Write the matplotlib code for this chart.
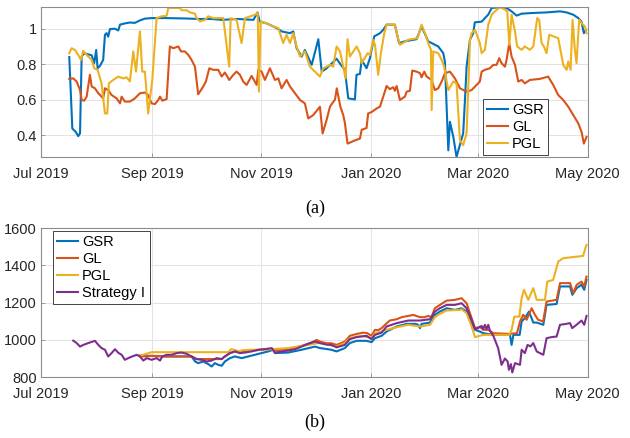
import numpy as np
import pandas as pd
import matplotlib
matplotlib.use('agg')
import matplotlib.pyplot as plt
import matplotlib.dates as mdates

# x values are days after 2019-07-01
start = pd.Timestamp('2019-07-01')

# ---- (a) top panel ----
gsr_a = [(15.8, 0.84), (17.5, 0.437), (19.4, 0.418), (20.8, 0.394), (21.8, 0.41), (22.7, 0.843),
         (24.1, 0.862), (28.3, 0.85), (29.7, 0.805), (30.8, 0.88), (31.6, 0.777), (32.9, 0.79),
         (34.7, 0.824), (35.7, 0.966), (36.6, 0.975), (37.5, 0.955), (38.5, 0.998), (41.3, 1.0),
         (43.1, 0.99), (44.1, 1.023), (46.8, 1.03), (49.6, 1.035), (52.4, 1.033), (55.2, 1.047),
         (58, 1.057), (61.7, 1.06), (70, 1.06), (80, 1.058), (88, 1.055), (95, 1.055), (101, 1.05),
         (110, 1.055), (118.5, 1.05), (120.8, 1.092), (122, 1.041), (125.9, 1.03), (129.6, 1.013),
         (132.4, 0.998), (134.2, 0.985), (138.9, 0.975), (140.7, 0.985), (142.6, 0.89), (145.4, 0.843),
         (147.2, 0.88), (151, 0.796), (154.7, 0.941), (156.6, 0.758), (159.3, 0.776), (160.2, 0.786),
         (162.1, 0.803), (164.9, 0.831), (166.8, 0.803), (169.5, 0.768), (171.4, 0.607), (175.1, 0.601),
         (176, 0.74), (177.9, 0.745), (178.9, 0.824), (181.6, 0.777), (183.5, 0.834), (185.9, 0.957),
         (189.1, 0.975), (190.9, 0.994), (192.8, 1.023), (197.4, 1.023), (199.7, 0.919), (203, 0.929),
         (209.5, 0.941), (212.3, 1.013), (216, 0.929), (221.6, 0.9), (224.4, 0.862), (225.3, 0.815),
         (227.2, 0.314), (228.1, 0.475), (230, 0.39), (231.8, 0.277), (235.5, 0.41), (236.5, 0.6),
         (237.4, 0.786), (239.3, 0.938), (241.1, 0.975), (242, 1.036), (245.8, 1.04), (249.5, 1.08),
         (251.4, 1.117), (256, 1.122), (259.7, 1.117), (262.5, 1.098), (265.3, 1.074), (268.1, 1.085),
         (274.6, 1.089), (282, 1.092), (289.5, 1.098), (293.2, 1.092), (296.9, 1.079), (299.7, 1.06),
         (301.5, 1.04), (302.8, 0.975), (304, 0.994)]

gl_a = [(15.8, 0.717), (18, 0.72), (19.9, 0.702), (21.8, 0.654), (22.7, 0.598), (24.1, 0.594),
        (25.5, 0.617), (27.3, 0.74), (28.3, 0.674), (30.1, 0.664), (32, 0.636), (34.7, 0.607),
        (35.7, 0.664), (37.5, 0.654), (39.4, 0.626), (42.2, 0.607), (44.1, 0.579), (45, 0.617),
        (46.8, 0.589), (49.6, 0.589), (52.4, 0.607), (55.2, 0.636), (58, 0.64), (59.8, 0.626),
        (61.7, 0.579), (63.6, 0.575), (65.4, 0.598), (66.4, 0.617), (67.7, 0.594), (70.1, 0.603),
        (71.9, 0.9), (73.8, 0.89), (76.6, 0.9), (78.1, 0.872), (80.3, 0.872), (82.2, 0.852),
        (84, 0.824), (85.9, 0.786), (87.7, 0.63), (90.5, 0.674), (92, 0.702), (93.9, 0.777),
        (96.1, 0.768), (98.9, 0.768), (100.8, 0.73), (102.6, 0.753), (105, 0.711), (107.3, 0.74),
        (109.1, 0.758), (111, 0.74), (112.8, 0.702), (114.7, 0.683), (117.5, 0.734), (120.3, 0.683),
        (121.2, 0.768), (123.1, 0.758), (124.9, 0.711), (127.7, 0.777), (130.5, 0.711), (132.4, 0.72),
        (134.2, 0.664), (137, 0.711), (138.9, 0.674), (141.7, 0.636), (144.5, 0.598), (147.2, 0.579),
        (149.1, 0.494), (151.9, 0.513), (155.6, 0.56), (157.1, 0.409), (159.3, 0.485), (161.2, 0.56),
        (162.5, 0.58), (164, 0.6), (165, 0.664), (167, 0.56), (168.6, 0.513), (169.5, 0.47),
        (171, 0.352), (172.9, 0.36), (175.1, 0.37), (177.9, 0.38), (178.9, 0.43), (181.6, 0.44),
        (182.5, 0.522), (184.4, 0.53), (187.2, 0.55), (189.1, 0.56), (190.9, 0.617), (192.8, 0.677),
        (194.6, 0.659), (196.5, 0.67), (197.4, 0.65), (198.4, 0.677), (200.2, 0.598), (203, 0.617),
        (204, 0.645), (205.8, 0.65), (207.1, 0.764), (209.5, 0.758), (211.4, 0.749), (212.3, 0.726),
        (213.8, 0.758), (215.1, 0.73), (217.9, 0.711), (219.7, 0.654), (221.6, 0.664), (223.5, 0.702),
        (225.3, 0.749), (228.1, 0.758), (230.9, 0.72), (233.7, 0.664), (237.4, 0.645), (240.2, 0.654),
        (243, 0.683), (244.8, 0.702), (245.8, 0.758), (247.6, 0.768), (250.4, 0.777), (252.3, 0.796),
        (254.1, 0.796), (255.6, 0.834), (256.9, 0.806), (258.8, 0.786), (259.7, 0.824), (261.2, 0.919),
        (262.5, 0.843), (264.4, 0.796), (266.2, 0.702), (268.1, 0.711), (269.9, 0.692), (272.7, 0.711),
        (278.3, 0.717), (282.9, 0.73), (285.7, 0.683), (288.5, 0.626), (291.3, 0.598), (294.1, 0.56),
        (296.9, 0.513), (299.7, 0.466), (301.5, 0.419), (302.8, 0.352), (304.3, 0.39)]

pgl_a = [(15.8, 0.862), (17.1, 0.89), (19, 0.88), (20.8, 0.852), (22.3, 0.824), (23.6, 0.876),
         (25.5, 0.852), (28.3, 0.824), (29.7, 0.777), (31.6, 0.768), (33.8, 0.692), (35.7, 0.522),
         (37, 0.522), (37.9, 0.692), (40.3, 0.711), (43.1, 0.73), (45.9, 0.72), (47.8, 0.726),
         (49.6, 0.702), (51.5, 0.872), (53, 0.758), (55.2, 0.985), (56.5, 0.758), (58, 0.758),
         (59.8, 0.522), (62.1, 0.711), (64.5, 1.06), (67.3, 1.07), (70.1, 1.073), (71, 1.117),
         (77.5, 1.117), (78.5, 1.104), (81.3, 1.104), (83.1, 1.092), (85.9, 1.085), (86.8, 1.06),
         (88.7, 1.041), (91.5, 1.05), (93.3, 1.07), (96.1, 1.06), (101.7, 1.06), (105, 0.786),
         (105.8, 1.06), (109.1, 1.05), (111.9, 0.919), (113.8, 1.06), (119.4, 1.079), (120.9, 1.089),
         (121.6, 0.645), (122.5, 1.041), (125.9, 1.03), (129.6, 1.013), (132.4, 1.003), (135.1, 0.919),
         (137, 0.966), (138.9, 0.919), (140.7, 0.975), (142.6, 0.9), (144.5, 0.843), (147.2, 0.872),
         (150, 0.786), (152.8, 0.758), (155.6, 0.73), (157.4, 0.776), (161.2, 0.796), (163, 0.786),
         (164.9, 0.9), (166.8, 0.872), (168.6, 0.786), (169.9, 0.72), (171, 0.941), (172.3, 0.843),
         (176.1, 0.9), (177.9, 0.862), (178.9, 0.806), (182.2, 0.862), (183.5, 0.852), (185.3, 0.938),
         (186.3, 0.909), (188.1, 0.74), (189.6, 0.862), (191.5, 0.975), (192.8, 1.023), (197.4, 1.023),
         (198.9, 0.957), (200.2, 0.909), (204.9, 0.938), (210.1, 0.947), (212.3, 1.023), (214.2, 0.975),
         (216, 0.919), (217.5, 0.881), (217.9, 0.541), (218.8, 0.872), (221.6, 0.862), (223.5, 0.824),
         (224.9, 0.786), (226.3, 0.702), (227.2, 0.654), (230, 0.702), (231.8, 0.692), (233.7, 0.371),
         (235.5, 0.343), (237.4, 0.41), (238.3, 0.654), (239.3, 0.938), (240.2, 0.975), (242.1, 0.994),
         (244.8, 0.919), (245.8, 0.862), (247.6, 0.881), (249.5, 1.023), (251.4, 1.079), (253.2, 1.098),
         (256, 1.122), (258.8, 1.107), (260.1, 1.098), (261.2, 0.909), (262.5, 1.079), (264.4, 0.985),
         (265.6, 0.9), (268.1, 0.881), (269.9, 0.9), (272.7, 0.881), (274.6, 0.9), (276.8, 1.06),
         (277.9, 1.05), (279.2, 0.919), (280.5, 0.9), (282, 0.862), (283.5, 0.966), (288.5, 0.947),
         (291.3, 0.796), (293.2, 0.768), (294.1, 0.815), (295.4, 0.768), (296.5, 1.05), (297.8, 0.881),
         (298.7, 0.806), (300.2, 1.05), (301.5, 1.032), (303.4, 1.013), (304.3, 0.975)]

# ---- (b) bottom panel ----
gsr_b = [(55.2, 915), (62, 914), (70, 911), (84, 911), (86, 884), (87.7, 875), (90.5, 884), (93.3, 870),
         (95.2, 857), (97, 875), (98.9, 866), (100.8, 861), (102.6, 884), (105.4, 902), (108.2, 911),
         (111.9, 902), (115.6, 911), (119.4, 920), (123, 929), (126.8, 938), (129.6, 947), (130.5, 929),
         (137.9, 932), (145.4, 947), (152.8, 964), (155.6, 956), (162, 947), (164.9, 938), (169.5, 956),
         (172.3, 983), (176.1, 995), (181.6, 995), (184.4, 988), (186.3, 1009), (190, 1022),
         (192.8, 1045), (198.4, 1072), (204, 1086), (209, 1086), (210.4, 1081), (211.4, 1063),
         (212.3, 1086), (216.9, 1093), (219.7, 1135), (222.5, 1152), (226.3, 1170), (230.9, 1161),
         (234.6, 1170), (237.4, 1152), (240.2, 1090), (242.1, 1054), (244.8, 1045), (246.7, 1036),
         (252.3, 1027), (261.6, 1027), (262.5, 973), (263.5, 1027), (267, 1027), (268.1, 1099),
         (269.9, 1117), (272.2, 1152), (274.6, 1093), (276.5, 1093), (280.2, 1081), (282, 1188),
         (287.6, 1193), (289.5, 1287), (295.1, 1287), (296.4, 1242), (298.8, 1278), (301.5, 1296),
         (303, 1269), (304.3, 1322)]

gl_b = [(55.2, 915), (57, 911), (62, 914), (70, 911), (84, 911), (86.8, 897), (100.8, 897), (102.6, 911),
        (105.4, 929), (108, 938), (111, 932), (116, 943), (121.2, 945), (124.9, 950), (128.7, 950),
        (130.5, 945), (137.9, 950), (145.4, 968), (151, 986), (153.8, 1000), (155.6, 991), (159.3, 982),
        (162, 982), (164.9, 973), (169.5, 991), (172.3, 1022), (176.1, 1032), (179.8, 1039),
        (182, 1036), (184.4, 1022), (186.3, 1054), (188, 1052), (190, 1063), (191.9, 1081),
        (194.6, 1104), (198.4, 1111), (201.2, 1122), (204.9, 1129), (207.7, 1134), (211.4, 1122),
        (214, 1122), (216, 1129), (217.8, 1122), (219.7, 1170), (222.5, 1188), (226.3, 1211),
        (230.9, 1215), (234.6, 1224), (237.4, 1197), (240.2, 1117), (242.1, 1063), (244.8, 1070),
        (246.7, 1054), (249.5, 1054), (252.3, 1036), (261.2, 1032), (265.5, 1036), (267.2, 1099),
        (269, 1135), (270.9, 1108), (273.7, 1170), (275.5, 1135), (277.3, 1108), (280.1, 1099),
        (282, 1206), (287.6, 1215), (289.5, 1305), (295.1, 1305), (296.9, 1251), (298.8, 1296),
        (301.5, 1313), (303, 1287), (304.3, 1340)]

pgl_b = [(55.2, 915), (57, 920), (61.7, 934), (104.5, 934), (106, 950), (108.5, 945), (110, 938),
         (113, 945), (117.5, 947), (121.2, 947), (128.7, 950), (137.9, 956), (149, 973), (154, 982),
         (155.6, 983), (164.9, 964), (169.5, 983), (172.3, 1009), (176.1, 1018), (179.8, 1020),
         (184.4, 1009), (186.3, 1036), (190, 1045), (192.8, 1054), (198.4, 1068), (204.9, 1081),
         (211.4, 1072), (217, 1081), (219.7, 1122), (222.5, 1140), (226.3, 1158), (233.7, 1161),
         (234.6, 1165), (237.4, 1143), (240.2, 1072), (242.1, 1015), (244.8, 1022), (246.7, 1027),
         (261.2, 1027), (262.5, 1054), (264, 1125), (266.8, 1125), (268.1, 1224), (269.4, 1269),
         (271.8, 1215), (274.6, 1278), (276.5, 1215), (281.1, 1215), (282.4, 1313), (285.7, 1322),
         (288.5, 1421), (291.3, 1439), (296.9, 1445), (302.4, 1451), (303.9, 1501), (304.3, 1510)]

strat_b = [(18, 996), (19.9, 983), (21.8, 964), (23.6, 973), (26.4, 983), (30.1, 995), (32, 973),
           (33.8, 956), (35.7, 947), (37.5, 911), (39.4, 929), (41.3, 950), (43.1, 931), (45, 920),
           (46.8, 893), (48.7, 902), (50.9, 911), (53.4, 920), (55.2, 911), (57.1, 889), (59, 902),
           (61.7, 893), (64.5, 902), (66.4, 889), (67.7, 911), (70.1, 920), (72.9, 920), (75.7, 929),
           (78.5, 932), (81.3, 925), (84, 911), (86.8, 897), (89.6, 893), (92.4, 884), (95.2, 889),
           (98, 902), (100.8, 897), (102.6, 911), (105.4, 929), (108.2, 938), (111, 929), (113.8, 932),
           (117.5, 938), (121.2, 947), (124.9, 950), (128.7, 956), (130.5, 932), (134.2, 938),
           (137.9, 943), (141.7, 950), (145.4, 964), (149.1, 979), (152.8, 991), (155.6, 983),
           (159.3, 975), (162, 973), (164.9, 960), (169.5, 973), (172.3, 1004), (176.1, 1015),
           (181.6, 1022), (184.4, 1004), (186.3, 1027), (190, 1039), (192.8, 1072), (198.4, 1090),
           (204.9, 1104), (211.4, 1104), (217, 1111), (219.7, 1152), (222.5, 1170), (226.3, 1188),
           (230.9, 1188), (234.6, 1197), (237.4, 1170), (240.2, 1108), (242.1, 1058), (243.5, 1062),
           (245.8, 1075), (246.7, 1058), (247.6, 1081), (248.5, 1058), (249.5, 1081), (250.4, 1050),
           (252.3, 1022), (253.2, 1000), (255, 956), (256.9, 866), (258.8, 900), (260.3, 884),
           (261, 839), (262.1, 870), (262.9, 825), (264.4, 875), (267.2, 866), (268.1, 947),
           (269.9, 929), (271.4, 973), (273, 965), (274.6, 983), (276.5, 938), (278.3, 929),
           (280.2, 920), (282, 1009), (284.8, 1015), (287.6, 1018), (289.5, 1081), (292.3, 1085),
           (295.1, 1090), (296.3, 1063), (298.7, 1081), (301.5, 1104), (303, 1081), (304.3, 1129)]

labels_a = ['GSR', 'GL', 'PGL']
labels_b = ['GSR', 'GL', 'PGL', 'Strategy I']
colors = ['#0072BD', '#D95319', '#EDB120', '#7E2F8E']
tick_dates = ['2019-07-01', '2019-09-01', '2019-11-01', '2020-01-01', '2020-03-01', '2020-05-01']
yticks_a = [0.4, 0.6, 0.8, 1.0]
ytick_labels_a = ['0.4', '0.6', '0.8', '1']
yticks_b = [800, 1000, 1200, 1400, 1600]


def unpack(series):
    d = np.array([p[0] for p in series])
    v = np.array([p[1] for p in series])
    return start + pd.to_timedelta(d, unit='D'), v


def style_axes(ax):
    ax.set_xlim(pd.Timestamp('2019-07-01'), pd.Timestamp('2020-05-01'))
    ax.set_xticks(pd.to_datetime(tick_dates))
    ax.xaxis.set_major_formatter(mdates.DateFormatter('%b %Y'))
    ax.grid(True, color='#e3e3e3', linewidth=0.7)
    ax.set_axisbelow(True)
    for s in ax.spines.values():
        s.set_color('#8c8c8c')
        s.set_linewidth(0.8)
    ax.tick_params(direction='in', length=3, width=0.6, color='#8c8c8c',
                   labelsize=10.5, labelcolor='#262626')
    ax.tick_params(axis='x', pad=7)
    ax.tick_params(axis='y', pad=3)


plt.rcParams['font.family'] = ['Liberation Sans', 'DejaVu Sans']
fig = plt.figure(figsize=(6.3, 4.38), dpi=100)
ax1 = fig.add_axes([0.065, 0.641, 0.868, 0.344])
ax2 = fig.add_axes([0.065, 0.139, 0.868, 0.340])

for series, lab, c in zip([gsr_a, gl_a, pgl_a], labels_a, colors):
    x, y = unpack(series)
    ax1.plot(x, y, color=c, lw=1.5, label=lab)
style_axes(ax1)
ax1.set_ylim(0.275, 1.125)
ax1.set_yticks(yticks_a)
ax1.set_yticklabels(ytick_labels_a)
leg1 = ax1.legend(loc='lower left', bbox_to_anchor=(0.808, 0.012), fontsize=10.5,
                  handlelength=1.4, handletextpad=0.3, labelspacing=0.2, borderpad=0.3,
                  fancybox=False, framealpha=1, borderaxespad=0)
leg1.get_frame().set_edgecolor('#262626')
leg1.get_frame().set_linewidth(0.6)

for series, lab, c in zip([gsr_b, gl_b, pgl_b, strat_b], labels_b, colors):
    x, y = unpack(series)
    ax2.plot(x, y, color=c, lw=1.5, label=lab)
style_axes(ax2)
ax2.set_ylim(800, 1600)
ax2.set_yticks(yticks_b)
leg2 = ax2.legend(loc='upper left', bbox_to_anchor=(0.022, 0.983), fontsize=10.5,
                  handlelength=1.4, handletextpad=0.3, labelspacing=0.2, borderpad=0.3,
                  fancybox=False, framealpha=1, borderaxespad=0)
leg2.get_frame().set_edgecolor('#262626')
leg2.get_frame().set_linewidth(0.6)

fig.text(0.5, 1 - 208 / 438, '(a)', ha='center', va='center',
         family=['Liberation Serif', 'DejaVu Serif'], fontsize=13)
fig.text(0.5, 1 - 422 / 438, '(b)', ha='center', va='center',
         family=['Liberation Serif', 'DejaVu Serif'], fontsize=13)

fig.savefig('out.png', dpi=100)
